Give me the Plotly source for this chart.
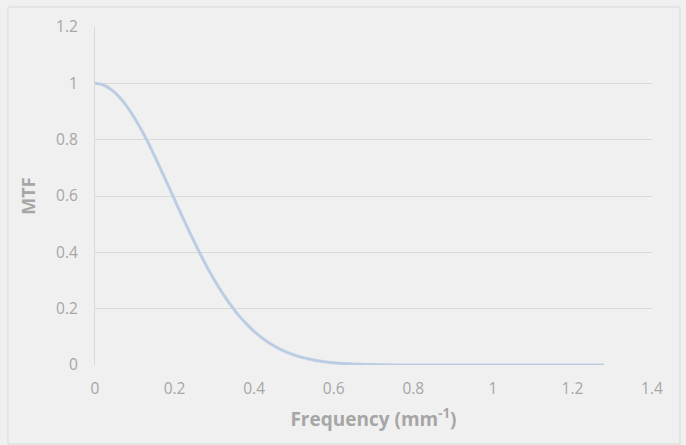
import plotly.graph_objects as go

# MTF curve samples
frequency = [0.00, 0.02, 0.04, 0.06, 0.08, 0.10, 0.12, 0.14, 0.16, 0.18,
             0.20, 0.22, 0.24, 0.26, 0.28, 0.30, 0.32, 0.34, 0.36, 0.38,
             0.40, 0.42, 0.44, 0.46, 0.48, 0.50, 0.52, 0.54, 0.56, 0.58,
             0.60, 0.64, 0.68, 0.72, 0.80, 0.90, 1.00, 1.10, 1.20, 1.28]
mtf = [1.000, 0.995, 0.979, 0.953, 0.918, 0.875, 0.826, 0.771, 0.711, 0.650,
       0.587, 0.525, 0.465, 0.407, 0.352, 0.302, 0.256, 0.215, 0.178, 0.147,
       0.119, 0.096, 0.076, 0.060, 0.047, 0.036, 0.027, 0.021, 0.015, 0.011,
       0.008, 0.004, 0.002, 0.001, 0.000, 0.000, 0.000, 0.000, 0.000, 0.000]

x_ticks = [0, 0.2, 0.4, 0.6, 0.8, 1, 1.2, 1.4]
x_tick_text = ["0", "0.2", "0.4", "0.6", "0.8", "1", "1.2", "1.4"]
y_ticks = [0, 0.2, 0.4, 0.6, 0.8, 1, 1.2]
y_tick_text = ["0", "0.2", "0.4", "0.6", "0.8", "1", "1.2"]

BG = "#f0f0f0"
GRID = "#d9d9d9"
TEXT = "#a6a6a6"
FONT = "Open Sans, sans-serif"

fig = go.Figure()
fig.add_trace(go.Scatter(
    x=frequency, y=mtf, mode="lines",
    line=dict(color="#bccde3", width=3, shape="spline", smoothing=0.6),
    hoverinfo="skip", showlegend=False,
))

fig.update_layout(
    width=686, height=445,
    margin=dict(l=95, r=34, t=27, b=80),
    paper_bgcolor=BG, plot_bgcolor=BG,
    font=dict(family=FONT, size=15, color=TEXT),
    xaxis=dict(
        range=[0, 1.4], tickvals=x_ticks, ticktext=x_tick_text,
        showgrid=False, zeroline=False, showline=False,
        ticks="", ticklabelstandoff=12,
        tickfont=dict(size=15.5, color=TEXT),
        title=dict(text="<b>Frequency (mm<sup>-1</sup>)</b>",
                   font=dict(size=19, color=TEXT), standoff=15),
    ),
    yaxis=dict(
        range=[0, 1.2], tickvals=y_ticks, ticktext=y_tick_text,
        showgrid=True, gridcolor=GRID, gridwidth=1,
        zeroline=False, showline=True, linecolor=GRID, linewidth=1,
        ticks="", ticklabelstandoff=13,
        tickfont=dict(size=15.5, color=TEXT),
        title=dict(text="<b>MTF</b>", font=dict(size=18, color=TEXT), standoff=15),
    ),
    shapes=[dict(
        type="rect", xref="paper", yref="paper",
        x0=-87 / 557, x1=(680 - 95) / 557,
        y0=-(444 - 365) / 338, y1=(365 - 7) / 338,
        line=dict(color=GRID, width=1), fillcolor="rgba(0,0,0,0)", layer="below",
    )],
)

fig.write_html("out.html")
